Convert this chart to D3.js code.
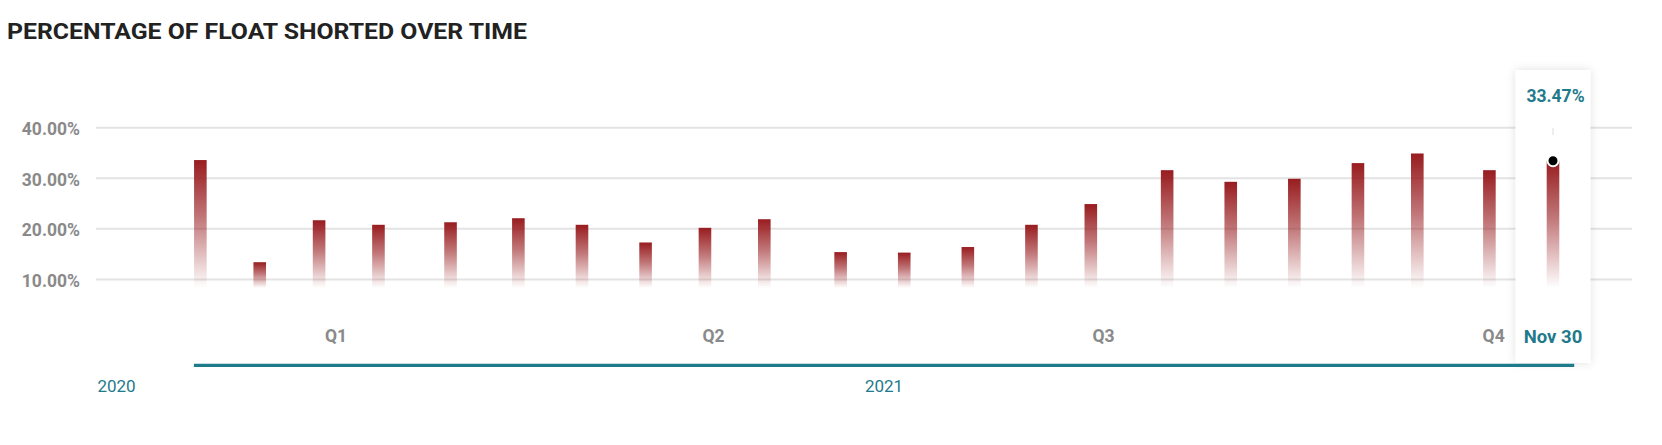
<!DOCTYPE html>
<html>
<head>
<meta charset="utf-8">
<script src="https://cdn.jsdelivr.net/npm/d3@7"></script>
<style>
  html, body { margin: 0; padding: 0; background: #ffffff; }
  svg { display: block; font-family: Roboto, "Noto Sans", sans-serif; }
</style>
</head>
<body>
<svg id="chart" width="1662" height="445"></svg>
<script>
// ---- data ----
const dates = ["2021-01-15","2021-01-29","2021-02-12","2021-02-26","2021-03-15","2021-03-31",
               "2021-04-15","2021-04-30","2021-05-14","2021-05-28","2021-06-15","2021-06-30",
               "2021-07-15","2021-07-30","2021-08-13","2021-08-31","2021-09-15","2021-09-30",
               "2021-10-15","2021-10-29","2021-11-15","2021-11-30"];
const values = [33.6, 13.4, 21.7, 20.8, 21.3, 22.1, 20.8, 17.3, 20.2, 21.9, 15.4, 15.3,
                16.4, 20.8, 24.9, 31.6, 29.3, 29.9, 33.0, 34.9, 31.6, 33.47];
const yTicks = [10, 20, 30, 40];
const quarterLabels = ["Q1", "Q2", "Q3", "Q4"];
const quarterMid = ["2021-02-16","2021-05-16","2021-08-16","2021-11-16"];
const yearLabels = ["2020", "2021"];
const title = "PERCENTAGE OF FLOAT SHORTED OVER TIME";
const highlightLabel = "Nov 30";

const parse = d3.utcParse("%Y-%m-%d");
const data = dates.map((d, i) => ({ date: parse(d), value: values[i] }));

const svg = d3.select("#chart");
const teal = "#1f7a8c";
const gray = "#8a8a8a";

// ---- scales ----
const x = d3.scaleUtc()
  .domain([parse("2021-01-01"), parse("2021-11-30")])
  .range([141, 1553]);
const y = d3.scaleLinear().domain([8.3, 40]).range([288, 127.7]);
const plotLeft = 96, plotRight = 1632;

// ---- defs ----
const defs = svg.append("defs");
const grad = defs.append("linearGradient").attr("id", "barGrad")
  .attr("x1", 0).attr("y1", 0).attr("x2", 0).attr("y2", 1);
grad.append("stop").attr("offset", "0%").attr("stop-color", "#981c1f").attr("stop-opacity", 1);
grad.append("stop").attr("offset", "45%").attr("stop-color", "#981c1f").attr("stop-opacity", 0.6);
grad.append("stop").attr("offset", "100%").attr("stop-color", "#981c1f").attr("stop-opacity", 0.0);

const shadow = defs.append("filter").attr("id", "shadow")
  .attr("x", "-40%").attr("y", "-10%").attr("width", "180%").attr("height", "120%");
shadow.append("feDropShadow").attr("dx", 0).attr("dy", 0).attr("stdDeviation", 5)
  .attr("flood-color", "#000").attr("flood-opacity", 0.12);

// ---- title ----
svg.append("text")
  .attr("x", 7).attr("y", 39.3)
  .attr("font-size", 22.5).attr("font-weight", 700)
  .attr("fill", "#222222")
  .attr("textLength", 520).attr("lengthAdjust", "spacingAndGlyphs")
  .text(title);

// ---- gridlines & y labels ----
svg.append("g").selectAll("line").data(yTicks).join("line")
  .attr("x1", plotLeft).attr("x2", plotRight)
  .attr("y1", d => y(d)).attr("y2", d => y(d))
  .attr("stroke", "#e3e3e3").attr("stroke-width", 2);

svg.append("g").selectAll("text").data(yTicks).join("text")
  .attr("x", 80).attr("y", d => y(d) + 7.3)
  .attr("text-anchor", "end")
  .attr("font-size", 17.5).attr("font-weight", 700).attr("fill", gray)
  .text(d => d3.format(".2f")(d) + "%");

// ---- bars (all except highlighted) ----
const barW = 12.6;
const last = data[data.length - 1];
const lastX = x(last.date);

svg.append("g").selectAll("rect").data(data.slice(0, -1)).join("rect")
  .attr("x", d => x(d.date) - barW / 2)
  .attr("y", d => y(d.value))
  .attr("width", barW)
  .attr("height", d => y.range()[0] - y(d.value))
  .attr("fill", "url(#barGrad)");

// ---- tooltip panel ----
svg.append("rect")
  .attr("x", lastX - 37.5).attr("y", 70)
  .attr("width", 75).attr("height", 293)
  .attr("fill", "#ffffff")
  .attr("filter", "url(#shadow)");

svg.append("line")
  .attr("x1", lastX).attr("x2", lastX)
  .attr("y1", 128).attr("y2", 135)
  .attr("stroke", "#dddddd").attr("stroke-width", 1);

// highlighted bar
svg.append("rect")
  .attr("x", lastX - barW / 2)
  .attr("y", y(last.value))
  .attr("width", barW)
  .attr("height", y.range()[0] - y(last.value))
  .attr("fill", "url(#barGrad)");

svg.append("circle")
  .attr("cx", lastX).attr("cy", y(last.value))
  .attr("r", 5.5)
  .attr("fill", "#000000").attr("stroke", "#ffffff").attr("stroke-width", 2);

svg.append("text")
  .attr("x", lastX + 2.5).attr("y", 102)
  .attr("text-anchor", "middle")
  .attr("font-size", 17.5).attr("font-weight", 700).attr("fill", teal)
  .text(d3.format(".2f")(last.value) + "%");

svg.append("text")
  .attr("x", lastX).attr("y", 343.3)
  .attr("text-anchor", "middle")
  .attr("font-size", 18.5).attr("font-weight", 700).attr("fill", teal)
  .text(highlightLabel);

// ---- quarter labels ----
svg.append("g").selectAll("text").data(quarterLabels).join("text")
  .attr("x", (d, i) => x(parse(quarterMid[i])))
  .attr("y", 341.5)
  .attr("text-anchor", "middle")
  .attr("font-size", 17.5).attr("font-weight", 700).attr("fill", gray)
  .text(d => d);

// ---- year range line & labels ----
const rangeStart = x(parse("2021-01-13")) + 2;
const rangeEnd = x(parse("2021-12-05"));
svg.append("line")
  .attr("x1", rangeStart).attr("x2", rangeEnd)
  .attr("y1", 365.3).attr("y2", 365.3)
  .attr("stroke", teal).attr("stroke-width", 3.3);

const yearPos = [(plotLeft + x(parse("2021-01-01"))) / 2 - 2, (rangeStart + rangeEnd) / 2];
svg.append("g").selectAll("text").data(yearLabels).join("text")
  .attr("x", (d, i) => yearPos[i])
  .attr("y", 392)
  .attr("text-anchor", "middle")
  .attr("font-size", 17).attr("font-weight", 400).attr("fill", teal)
  .text(d => d);
</script>
</body>
</html>
